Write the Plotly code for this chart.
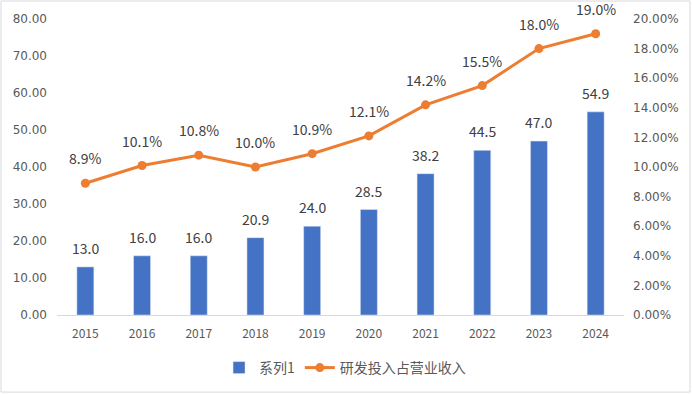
import plotly.graph_objects as go

years = ["2015", "2016", "2017", "2018", "2019", "2020", "2021", "2022", "2023", "2024"]
rd_values = [13.0, 16.0, 16.0, 20.9, 24.0, 28.5, 38.2, 44.5, 47.0, 54.9]
rd_ratio = [8.9, 10.1, 10.8, 10.0, 10.9, 12.1, 14.2, 15.5, 18.0, 19.0]
left_ticks = [0, 10, 20, 30, 40, 50, 60, 70, 80]
right_ticks = [0, 2, 4, 6, 8, 10, 12, 14, 16, 18, 20]

FONT = "Noto Sans CJK SC, Liberation Sans, sans-serif"
TICKFONT = "DejaVu Sans, sans-serif"
BLUE = "#4472C4"
ORANGE = "#ED7D31"

fig = go.Figure()
fig.add_trace(go.Bar(x=years, y=rd_values, name="系列1", marker_color=BLUE, yaxis="y"))
fig.add_trace(go.Scatter(x=years, y=rd_ratio, name="研发投入占营业收入", mode="lines+markers",
                         line=dict(color=ORANGE, width=3), marker=dict(size=9, color=ORANGE),
                         yaxis="y2"))

annotations = []
for i, v in enumerate(rd_values):
    annotations.append(dict(x=i, y=v, xref="x", yref="y", text=f"{v:.1f}", showarrow=False,
                            yshift=19, font=dict(size=14, color="#404040", family=FONT)))
for i, v in enumerate(rd_ratio):
    annotations.append(dict(x=i, y=v, xref="x", yref="y2", text=f"{v:.1f}%", showarrow=False,
                            yshift=25, font=dict(size=14, color="#404040", family=FONT)))

fig.update_layout(
    width=692, height=394,
    margin=dict(l=57, r=68, t=19, b=79, autoexpand=False),
    paper_bgcolor="white", plot_bgcolor="white",
    font=dict(family=FONT, color="#595959", size=12),
    bargap=0.7,
    xaxis=dict(type="category", range=[-0.5, len(years) - 0.5], showline=True,
               linecolor="#D9D9D9", linewidth=1, ticklabelstandoff=8,
               showgrid=False, ticks="", tickfont=dict(size=12, color="#595959")),
    yaxis=dict(range=[0, 80], tickvals=left_ticks, ticktext=[f"{t:.2f}" for t in left_ticks],
               showgrid=False, zeroline=False, showline=False, ticks="", ticklen=0,
               ticklabelstandoff=9,
               tickfont=dict(size=12, color="#595959", family=TICKFONT)),
    yaxis2=dict(range=[0, 20], overlaying="y", side="right", tickvals=right_ticks,
                ticktext=[f"{t:.2f}%" for t in right_ticks], showgrid=False, zeroline=False,
                showline=False, ticks="", ticklabelstandoff=8,
                tickfont=dict(size=12, color="#595959", family=TICKFONT)),
    legend=dict(orientation="h", x=0.508, xanchor="center", yref="container", y=0.066,
                yanchor="middle", font=dict(size=14, color="#595959"), traceorder="normal"),
    annotations=annotations,
    shapes=[dict(type="rect", xref="paper", yref="paper", x0=-0.0988, x1=1.1164,
                 y0=-0.2604, y1=1.0608, line=dict(color="#D9D9D9", width=1))],
)

fig.write_html("out.html", config={"displayModeBar": False},
               post_script="document.body.style.margin='0';")
